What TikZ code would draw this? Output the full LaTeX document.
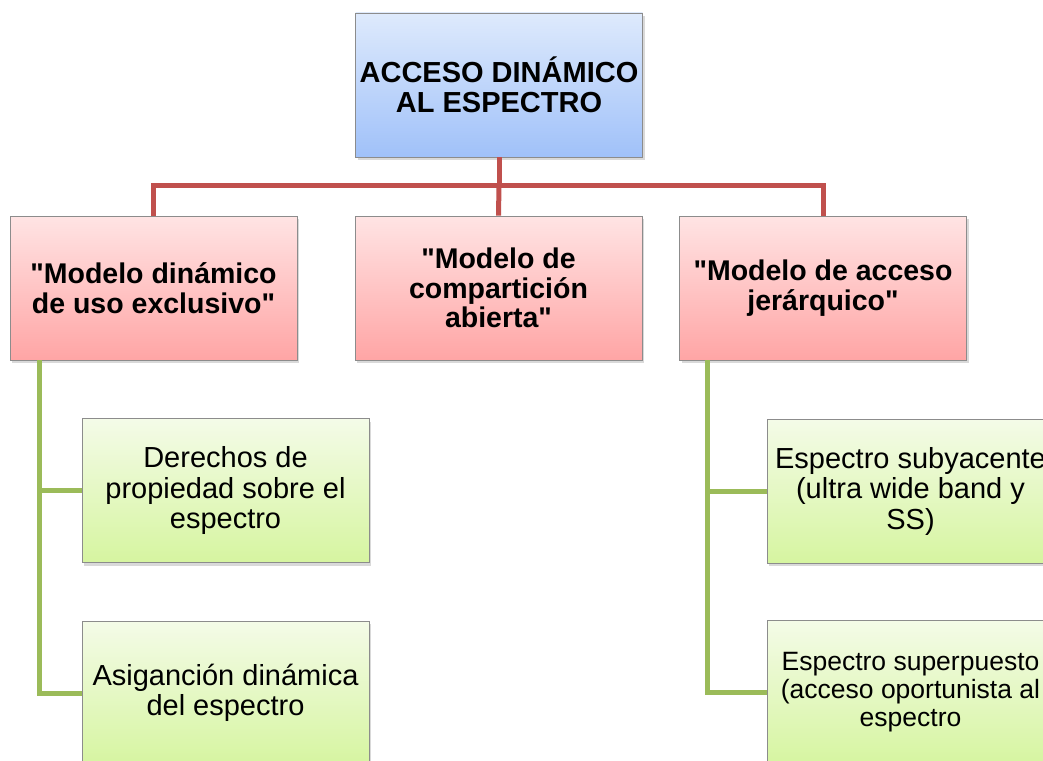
\documentclass[tikz,border=0pt]{standalone}
\usepackage{fontspec}
\setmainfont{Liberation Sans}[Ligatures=TeXOff]
\usetikzlibrary{shadows}
\definecolor{bordercol}{RGB}{140,140,140}
\definecolor{bluetop}{RGB}{222,234,252}
\definecolor{bluebot}{RGB}{160,193,249}
\definecolor{redtop}{RGB}{255,228,228}
\definecolor{redbot}{RGB}{255,165,165}
\definecolor{greentop}{RGB}{244,251,232}
\definecolor{greenbot}{RGB}{214,245,160}
\definecolor{redline}{RGB}{192,80,77}
\definecolor{greenline}{RGB}{155,187,89}
\tikzset{
  box/.style={draw=bordercol, line width=0.8pt, rectangle, inner sep=0pt,
    minimum width=287pt, minimum height=144pt, align=center,
    drop shadow={opacity=0.3, shadow xshift=2pt, shadow yshift=-3pt}},
  rootbox/.style={box, top color=bluetop, bottom color=bluebot,
    font=\fontsize{29}{30}\selectfont\bfseries},
  modelbox/.style={box, top color=redtop, bottom color=redbot,
    font=\fontsize{28.5}{29.5}\selectfont\bfseries},
  leafbox/.style={box, top color=greentop, bottom color=greenbot,
    font=\fontsize{29}{30.5}\selectfont},
  redconn/.style={draw=redline, line width=5pt},
  greenconn/.style={draw=greenline, line width=5pt}
}
\begin{document}
\begin{tikzpicture}[x=1pt,y=-1pt]
\useasboundingbox (0,0) rectangle (1043,760);
\clip (0,0) rectangle (1043,760);
\coordinate (bus) at (499,185);
\node[rootbox] (root) at (499,85) {ACCESO DINÁMICO\\AL ESPECTRO};
\node[modelbox] (L1) at (153.5,288) {"Modelo dinámico\\de uso exclusivo"};
\node[modelbox] (M) at (498.5,288) {"Modelo de\\compartición\\abierta"};
\node[modelbox] (R) at (823,288) {"Modelo de acceso\\jerárquico"};
\node[leafbox] (G1) at (225.5,490.5) {Derechos de\\propiedad sobre el\\espectro};
\node[leafbox] (G2) at (225.5,693) {Asiganción dinámica\\del espectro};
\node[leafbox] (G3) at (910.5,491) {Espectro subyacente\\(ultra wide band y\\SS)};
\node[leafbox, font=\fontsize{26.5}{28}\selectfont] (G4) at (910.5,692) {Espectro superpuesto\\(acceso oportunista al\\espectro};
% red connectors
\draw[redconn] (root.south) -- (bus);
\draw[redconn] (L1.north) |- (bus) -| (R.north);
\draw[redconn] (bus) -- (M.north);
% green connectors
\coordinate (gl) at ([xshift=30pt]L1.south west);
\draw[greenconn] (gl) |- (G2.west);
\draw[greenconn] (gl |- G1.west) -- (G1.west);
\coordinate (gr) at ([xshift=28.5pt]R.south west);
\draw[greenconn] (gr) |- (G4.west);
\draw[greenconn] (gr |- G3.west) -- (G3.west);
\end{tikzpicture}
\end{document}
